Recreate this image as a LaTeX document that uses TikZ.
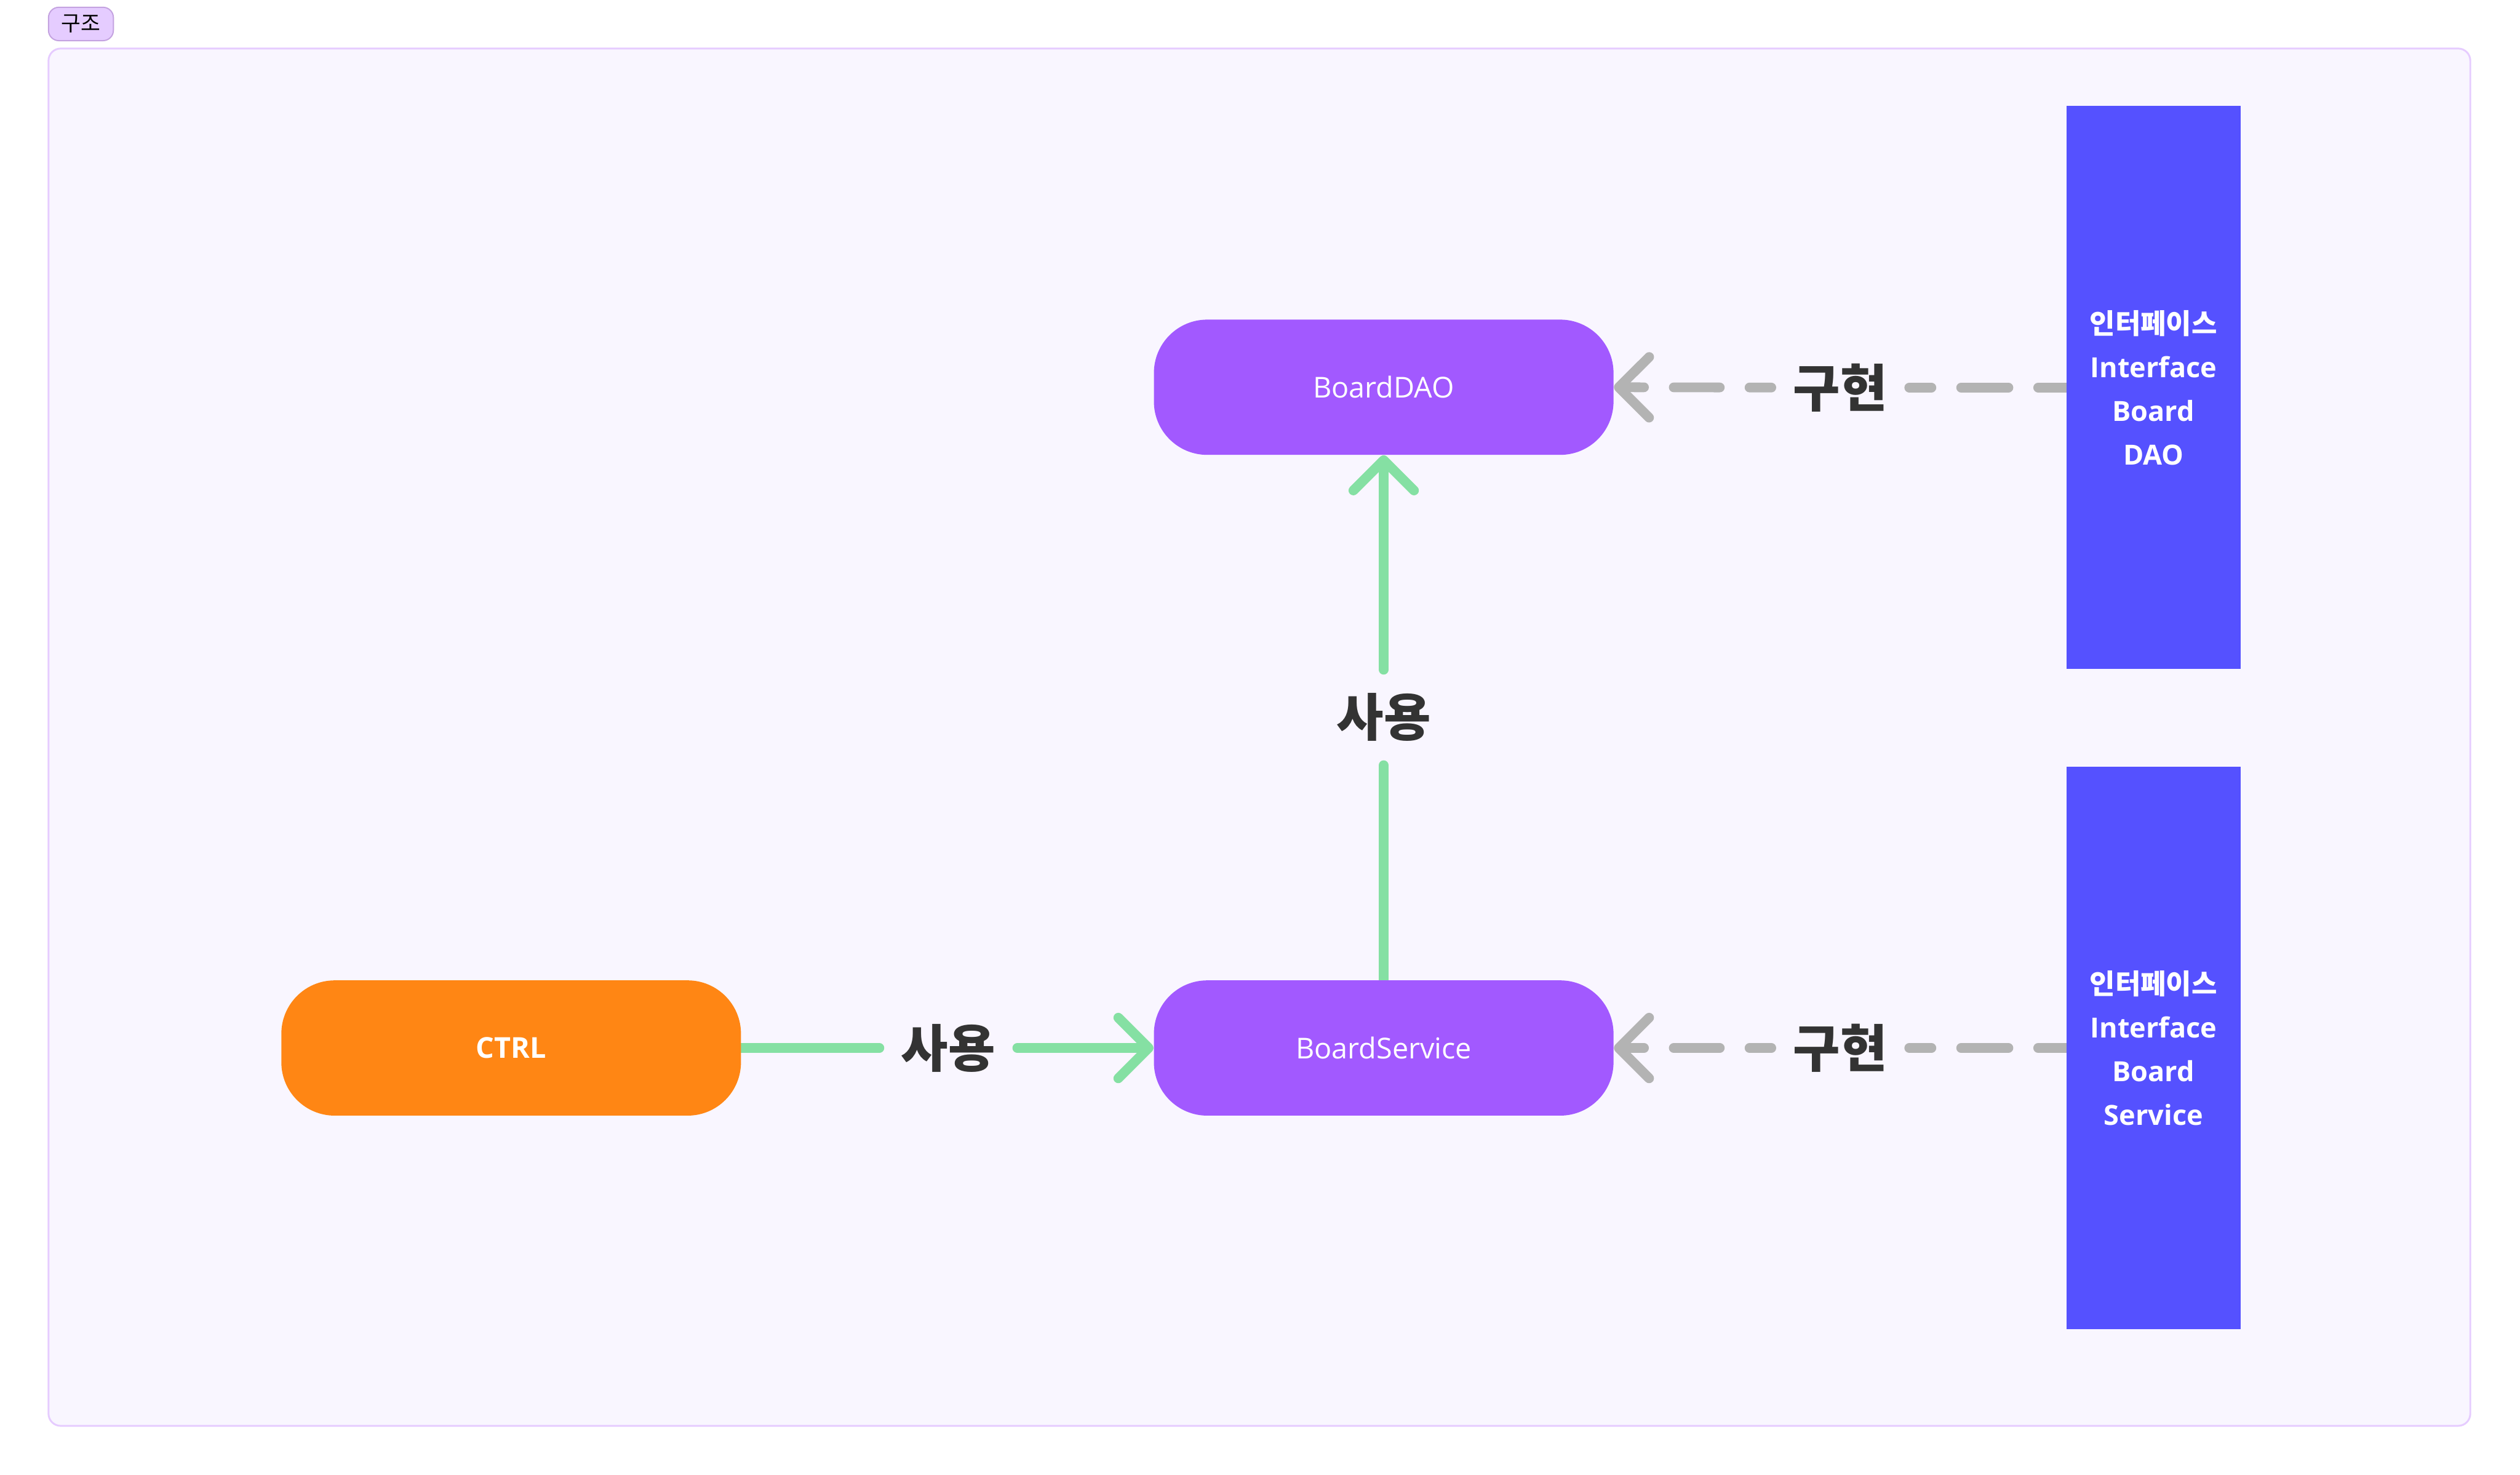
\documentclass[tikz,border=0pt]{standalone}
\usepackage{fontspec}
\setmainfont{Open Sans}
\newfontfamily\kr{Noto Sans CJK KR}
\usetikzlibrary{arrows.meta,backgrounds}

\definecolor{framebg}{HTML}{F9F6FF}
\definecolor{frameline}{HTML}{E6CCFF}
\definecolor{tagbg}{HTML}{E5CCFF}
\definecolor{tagline}{HTML}{C4A3E0}
\definecolor{boxpurple}{HTML}{A259FF}
\definecolor{boxorange}{HTML}{FF8614}
\definecolor{boxblue}{HTML}{5551FF}
\definecolor{usegreen}{HTML}{85E0A3}
\definecolor{implgray}{HTML}{B3B3B3}
\definecolor{labeltext}{HTML}{333333}

\tikzset{
  pill/.style={rounded corners=0.88cm, minimum width=7.58cm, minimum height=2.23cm,
    inner sep=0pt, text=white, font=\fontsize{13.5}{16}\selectfont},
  ifbox/.style={fill=boxblue, minimum width=2.87cm, minimum height=9.28cm, inner sep=0pt,
    text=white, align=center, font=\bfseries\fontsize{13}{20.5}\selectfont},
  rel/.style={minimum width=2.26cm, minimum height=1.56cm, inner sep=0pt,
    text=labeltext, font=\kr\bfseries\fontsize{24}{24}\selectfont},
  uses/.style={draw=usegreen, line width=0.16cm, line cap=round},
  impl/.style={draw=implgray, line width=0.16cm, line cap=round},
  opentip/.style={-{Straight Barb[length=0.5cm, width=1.0cm, round]}}
}

\begin{document}
\begin{tikzpicture}
    \useasboundingbox (0,0) rectangle (41.56,-24.32);

    % Frame
    \begin{pgfonlayer}{background}
    \draw[frameline, fill=framebg, line width=0.03cm, rounded corners=0.2cm] (0.8,-0.8) rectangle (40.74,-23.51);
    \end{pgfonlayer}
    \node[draw=tagline, fill=tagbg, line width=0.02cm, rounded corners=0.17cm, minimum width=1.07cm,
      minimum height=0.55cm, inner sep=0pt, font=\kr\fontsize{10}{10}\selectfont] (tag) at (1.335,-0.395) {구조};

    % Classes
    \node[pill, fill=boxpurple] (dao) at (22.82,-6.385) {BoardDAO};
    \node[pill, fill=boxpurple] (svc) at (22.82,-17.28) {BoardService};
    \node[pill, fill=boxorange, font=\bfseries\fontsize{13.5}{16}\selectfont] (ctrl) at (8.43,-17.28) {CTRL};

    % Interfaces
    \node[ifbox] (ifdao) at (35.515,-6.39) {{\kr 인터페이스}\\Interface\\Board\\DAO};
    \node[ifbox] (ifsvc) at (35.515,-17.28) {{\kr 인터페이스}\\Interface\\Board\\Service};

    % Labels
    \node[rel] (use1) at (15.64,-17.28) {사용};
    \node[rel] (use2) at (22.82,-11.83) {사용};
    \node[rel] (impl1) at (30.35,-6.39) {구현};
    \node[rel] (impl2) at (30.35,-17.28) {구현};

    % Uses
    \begin{pgfonlayer}{background}
    \draw[uses] (ctrl.east) -- (use1.west);
    \draw[uses, opentip] (use1.east) -- (svc.west);
    \draw[uses] (svc.north) -- (use2.south);
    \draw[uses, opentip] (use2.north) -- (dao.south);

    % Implements
    \draw[impl, dash pattern=on 0.46cm off 0.49cm on 0.78cm off 0.49cm on 0.37cm off 3cm] (ifdao.west) -- (impl1.east);
    \draw[impl, opentip, dash pattern=on 0.36cm off 0.49cm on 0.76cm off 0.49cm on 3cm] (impl1.west) -- (dao.east);
    \draw[impl, dash pattern=on 0.46cm off 0.49cm on 0.78cm off 0.49cm on 0.37cm off 3cm] (ifsvc.west) -- (impl2.east);
    \draw[impl, opentip, dash pattern=on 0.36cm off 0.49cm on 0.76cm off 0.49cm on 3cm] (impl2.west) -- (svc.east);
    \end{pgfonlayer}
\end{tikzpicture}
\end{document}
